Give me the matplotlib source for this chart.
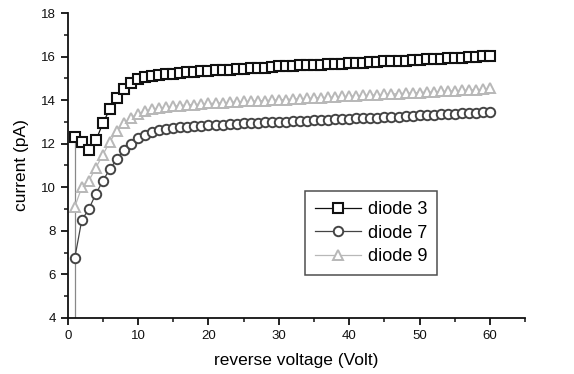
import matplotlib
matplotlib.use("Agg")
import matplotlib.pyplot as plt
from matplotlib.ticker import MultipleLocator

plt.rcParams['font.family'] = ['Liberation Sans', 'DejaVu Sans']

voltage = list(range(1, 61))

diode3 = [12.30, 12.10, 11.70, 12.15, 12.95, 13.60, 14.10, 14.50, 14.80, 14.95,
          15.05, 15.10, 15.15, 15.20, 15.20, 15.25, 15.28, 15.30, 15.33, 15.35,
          15.38, 15.40, 15.40, 15.45, 15.45, 15.48, 15.50, 15.50, 15.52, 15.55,
          15.55, 15.58, 15.60, 15.60, 15.62, 15.62, 15.65, 15.68, 15.68, 15.70,
          15.72, 15.72, 15.75, 15.75, 15.78, 15.80, 15.80, 15.82, 15.85, 15.85,
          15.88, 15.90, 15.90, 15.92, 15.95, 15.95, 15.98, 16.00, 16.02, 16.05]

diode7 = [6.75, 8.50, 9.00, 9.70, 10.30, 10.85, 11.30, 11.70, 12.00, 12.25,
          12.42, 12.55, 12.62, 12.68, 12.72, 12.75, 12.78, 12.80, 12.82, 12.85,
          12.86, 12.88, 12.90, 12.92, 12.93, 12.95, 12.96, 12.98, 13.00, 13.00,
          13.02, 13.03, 13.05, 13.06, 13.08, 13.10, 13.10, 13.12, 13.14, 13.15,
          13.16, 13.18, 13.20, 13.20, 13.22, 13.24, 13.25, 13.27, 13.28, 13.30,
          13.32, 13.33, 13.35, 13.36, 13.38, 13.40, 13.42, 13.43, 13.45, 13.45]

diode9 = [9.10, 10.00, 10.30, 10.90, 11.50, 12.10, 12.60, 12.95, 13.20, 13.38,
          13.50, 13.58, 13.64, 13.68, 13.72, 13.75, 13.78, 13.80, 13.82, 13.85,
          13.86, 13.88, 13.90, 13.92, 13.94, 13.95, 13.97, 13.98, 14.00, 14.02,
          14.03, 14.05, 14.07, 14.08, 14.10, 14.12, 14.13, 14.15, 14.17, 14.18,
          14.20, 14.22, 14.23, 14.25, 14.27, 14.28, 14.30, 14.32, 14.33, 14.35,
          14.37, 14.38, 14.40, 14.42, 14.43, 14.45, 14.47, 14.48, 14.50, 14.55]

# reading taken at the first step before the current settled
first_reading = 0.0

labels = ["diode 3", "diode 7", "diode 9"]

fig = plt.figure(figsize=(5.74, 3.74), dpi=100)
ax = fig.add_axes([0.118, 0.150, 0.797, 0.815])

# settling transient at the first voltage step
ax.plot([voltage[0], voltage[0]], [first_reading, diode3[0]],
        color="#888888", lw=0.9, zorder=1)

ax.plot(voltage, diode3, color="#111111", lw=0.9, marker="s", ms=6.5,
        mfc="white", mec="#111111", mew=1.5, label=labels[0], zorder=4)
ax.plot(voltage, diode7, color="#444444", lw=0.9, marker="o", ms=6.8,
        mfc="white", mec="#444444", mew=1.4, label=labels[1], zorder=3)
ax.plot(voltage, diode9, color="#b8b8b8", lw=0.9, marker="^", ms=7.2,
        mfc="white", mec="#b8b8b8", mew=1.4, label=labels[2], zorder=2)

ax.set_xlim(0, 65)
ax.set_ylim(4, 18)
ax.xaxis.set_minor_locator(MultipleLocator(5))
ax.yaxis.set_major_locator(MultipleLocator(2))
ax.yaxis.set_minor_locator(MultipleLocator(1))
ax.set_xticks([0, 10, 20, 30, 40, 50, 60])

for s in ("top", "right"):
    ax.spines[s].set_visible(False)
for s in ("left", "bottom"):
    ax.spines[s].set_linewidth(1.3)
    ax.spines[s].set_color("#111111")

ax.tick_params(which="major", direction="out", length=5, width=1.3,
               labelsize=9.5, colors="#111111")
ax.tick_params(which="minor", direction="out", length=3, width=1.1,
               colors="#111111")

ax.set_xlabel("reverse voltage (Volt)", fontsize=12.5, labelpad=8)
ax.set_ylabel("current (pA)", fontsize=12.5, labelpad=9)

leg = ax.legend(loc="upper left", bbox_to_anchor=(0.50, 0.445),
                fontsize=13, frameon=True, fancybox=False,
                handlelength=2.5, handletextpad=0.4, borderpad=0.55,
                labelspacing=0.35)
leg.get_frame().set_edgecolor("#222222")
leg.get_frame().set_linewidth(1.1)

fig.savefig("out.png", dpi=100, facecolor="white")
